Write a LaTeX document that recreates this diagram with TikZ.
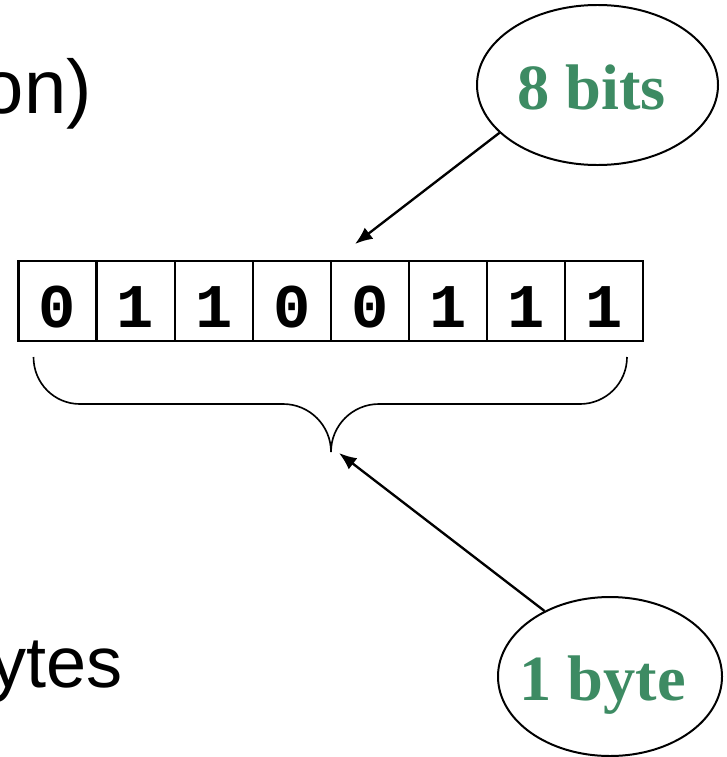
\documentclass[tikz,border=0pt]{standalone}
\usepackage{fontspec}
\setmainfont{Liberation Serif}
\setsansfont{Liberation Sans}
\setmonofont{Liberation Mono}
\usetikzlibrary{arrows.meta, shapes.geometric}
\definecolor{bitgreen}{RGB}{61,139,99}
\begin{document}
\begin{tikzpicture}[x=0.03cm, y=-0.03cm,
  bubble/.style={ellipse, draw, line width=1.7pt, inner sep=0pt},
  bubbletext/.style={text=bitgreen, font=\fontsize{55}{55}\selectfont\bfseries, inner sep=0pt, anchor=base},
  bitcell/.style={draw, line width=1.9pt, minimum width=2.342cm, minimum height=2.4cm, inner sep=0pt, text height=44.9pt, text depth=0pt, font=\fontsize{53}{54}\selectfont\ttfamily\bfseries},
  pointer/.style={-{Latex[length=15pt, width=12pt]}, line width=2pt}]
\clip (0,0) rectangle (726,757);

\node[anchor=base east, inner sep=0pt, font=\fontsize{64.9}{65}\selectfont\sffamily] (titleend) at (92,113) {on)};
\node[anchor=base east, inner sep=0pt, font=\fontsize{61.5}{62}\selectfont\sffamily] (byteword) at (123,687) {ytes};

\foreach \b [count=\i] in {0,1,1,0,0,1,1,1}
  \node[bitcell] (cell\i) at ({18.5+78.06*(\i-0.5)}, 300.7) {\b};

\node[bubble, minimum width=7.23cm, minimum height=4.8cm] (bits) at (597.5,85) {};
\node[bubbletext] (bitslabel) at (591.5,109) {8 bits};
\node[bubble, minimum width=6.72cm, minimum height=4.77cm] (byte) at (610,676.5) {};
\node[bubbletext] (bytelabel) at (602.5,700) {1 byte};

\coordinate (bracetip) at (331,452);
\draw[line width=1.4pt] (33.5,357) .. controls (33.5,383) and (54,404) .. (80,404) -- (283,404)
  .. controls (309.5,404) and (331,425.5) .. (bracetip)
  .. controls (331,425.5) and (352.5,404) .. (379,404) -- (580,404)
  .. controls (606,404) and (627,383) .. (627,357);

\coordinate (bitstip) at (355,244);
\coordinate (bytetip) at (339,453);
\draw[pointer] (bits.206) -- (bitstip);
\draw[pointer] (byte.135) -- (bytetip);
\end{tikzpicture}
\end{document}
